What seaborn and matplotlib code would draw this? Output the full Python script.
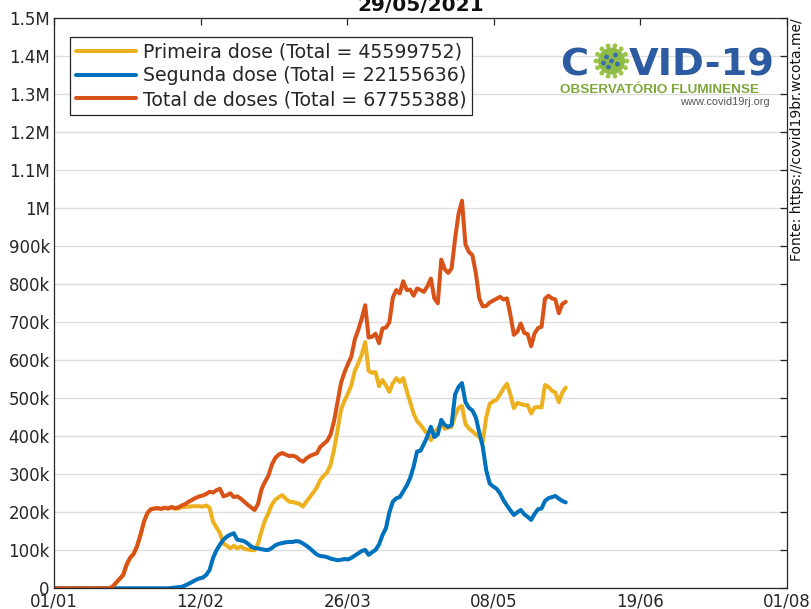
import numpy as np
import pandas as pd
import matplotlib
matplotlib.use("Agg")
import matplotlib.pyplot as plt
from matplotlib.lines import Line2D
from matplotlib.patches import Circle
from matplotlib.transforms import IdentityTransform
import seaborn as sns

# ---- data (daily doses, thousands; day 0 = 01/01/2021) ----
primeira_mil = [0] * 17 + [
    5, 15, 25, 35, 62, 80, 90, 110, 140, 175,
    198, 208, 210, 211, 209, 212, 210, 213, 209, 210,
    214, 214, 215, 216, 216, 216, 215, 218, 212, 175,
    160, 145, 118, 112, 105, 112, 105, 110, 104, 102,
    101, 100, 117, 150, 178, 198, 220, 233, 240, 245,
    236, 228, 227, 225, 222, 215, 228, 240, 252, 265,
    285, 296, 305, 325, 365, 415, 470, 493, 512, 535,
    572, 592, 615, 648, 572, 567, 569, 532, 548, 534,
    517, 540, 553, 543, 553, 520, 490, 460, 440, 430,
    418, 405, 390, 410, 420, 433, 420, 423, 425, 455,
    475, 480, 432, 421, 413, 405, 398, 385, 450, 485,
    492, 496, 510, 526, 538, 510, 474, 488, 485, 482,
    482, 460, 476, 477, 476, 535, 530, 520, 515, 490,
    515, 528]

segunda_mil = [0] * 34 + [
    1, 2, 3, 4, 8, 12, 17, 22, 26, 28,
    35, 48, 80, 100, 115, 128, 136, 141, 145, 128,
    126, 124, 118, 110, 106, 105, 103, 101, 101, 106,
    113, 117, 119, 121, 122, 122, 124, 123, 118, 112,
    105, 97, 89, 85, 84, 82, 78, 76, 74, 75,
    77, 76, 80, 86, 92, 98, 101, 88, 95, 101,
    115, 140, 158, 200, 228, 237, 240, 255, 270, 290,
    320, 360, 362, 380, 400, 425, 398, 405, 443, 430,
    425, 430, 510, 530, 540, 490, 475, 468, 450, 410,
    373, 311, 276, 268, 262, 250, 232, 218, 205, 193,
    200, 206, 195, 188, 180, 196, 208, 210, 230, 237,
    240, 243, 236, 230, 226]

total_mil = [0] * 17 + [
    5, 15, 25, 35, 62, 80, 90, 110, 140, 175,
    198, 208, 210, 211, 209, 212, 210, 214, 211, 213,
    218, 222, 228, 233, 238, 242, 244, 248, 254, 252,
    258, 262, 242, 245, 250, 240, 242, 236, 228, 220,
    213, 206, 222, 260, 280, 296, 325, 343, 352, 356,
    352, 348, 349, 346, 338, 333, 342, 348, 352, 355,
    372, 380, 388, 405, 440, 490, 540, 568, 590, 610,
    655, 680, 710, 745, 660, 662, 670, 645, 684, 686,
    700, 765, 785, 776, 808, 785, 786, 770, 789, 785,
    780, 795, 815, 763, 750, 865, 840, 830, 842, 920,
    985, 1020, 905, 885, 877, 830, 763, 742, 743, 752,
    757, 762, 767, 760, 763, 720, 667, 675, 697, 672,
    669, 637, 671, 685, 688, 762, 770, 763, 760, 724,
    748, 754]

series_names = ["Primeira dose (Total = 45599752)",
                "Segunda dose (Total = 22155636)",
                "Total de doses (Total = 67755388)"]
series_colors = ["#EDB120", "#0072BD", "#D95319"]
x_tick_labels = ["01/01", "12/02", "26/03", "08/05", "19/06", "01/08"]
y_tick_values = [0, 100, 200, 300, 400, 500, 600, 700, 800, 900,
                 1000, 1100, 1200, 1300, 1400, 1500]
y_tick_labels = ["0", "100k", "200k", "300k", "400k", "500k", "600k", "700k",
                 "800k", "900k", "1M", "1.1M", "1.2M", "1.3M", "1.4M", "1.5M"]
title_text = "29/05/2021"
source_text = "Fonte: https://covid19br.wcota.me/"

# ---- build frame ----
n = len(total_mil)
df = pd.DataFrame({
    "dia": np.tile(np.arange(n), 3),
    "doses": primeira_mil + segunda_mil + total_mil,
    "serie": np.repeat(series_names, n),
})

sns.set_theme(style="white")
plt.rcParams["font.family"] = ["DejaVu Sans"]

W, H = 811, 609
fig = plt.figure(figsize=(W / 100, H / 100), dpi=100)
ax = fig.add_axes([54 / W, (H - 588.3) / H, (787 - 54) / W, (588.3 - 18.3) / H])

sns.lineplot(data=df, x="dia", y="doses", hue="serie", hue_order=series_names,
             palette=dict(zip(series_names, series_colors)), linewidth=2.9,
             ax=ax, legend=False)

ax.set_xlim(0, 212)
ax.set_ylim(0, 1500)
ax.set_xticks(np.linspace(0, 212, 6))
ax.set_xticklabels(x_tick_labels)
ax.set_yticks(y_tick_values)
ax.set_yticklabels(y_tick_labels)
ax.set_xlabel("")
ax.set_ylabel("")
ax.yaxis.grid(True, color="#DEDEDE", linewidth=1)
ax.xaxis.grid(False)
ax.set_axisbelow(True)
for s in ax.spines.values():
    s.set_color("#262626")
    s.set_linewidth(0.9)
ax.tick_params(direction="in", length=5, width=0.9, top=True, right=True,
               colors="#262626", labelsize=12, pad=3)

ax.set_title(title_text, fontsize=14.5, fontweight="bold", pad=5.2, color="#111111")

handles = [Line2D([0], [0], color=c, lw=2.9) for c in series_colors]
leg = ax.legend(handles, series_names, loc="upper left",
                bbox_to_anchor=(16 / 733, (588.3 - 37) / 570), borderaxespad=0,
                fontsize=13.6, frameon=True, fancybox=False, framealpha=1,
                edgecolor="#262626", handlelength=3.2, handletextpad=0.35,
                labelspacing=0.25, borderpad=0.3)
leg.get_frame().set_linewidth(0.9)

# source text (rotated, right side)
fig.text(797 / W, 1 - 140 / H, source_text, rotation=90, ha="center",
         va="center", fontsize=10, color="#111111")

# ---- logo ----
def fx(px):
    return px / W

def fy(py):
    return 1 - py / H

blue = "#2C5BA2"
green = "#7EA73A"
fig.text(fx(560), fy(75), "C", fontsize=27.6, fontweight="bold", color=blue,
         ha="left", va="baseline", family="DejaVu Sans")
fig.text(fx(629), fy(75), "VID-19", fontsize=27.6, fontweight="bold", color=blue,
         ha="left", va="baseline", family="DejaVu Sans")
cx, cy = 611.5, H - 61
for k in range(14):
    a = 2 * np.pi * k / 14
    fig.add_artist(Circle((cx + 15.5 * np.cos(a), cy + 15.5 * np.sin(a)), 2.4,
                          transform=IdentityTransform(), color="#9CC44A", lw=0))
fig.add_artist(Circle((cx, cy), 13.5, transform=IdentityTransform(),
                      color="#8DBB46", lw=0))
for (dx, dy) in [(-5, 4), (4, 6), (6, -3), (-3, -6), (0, 0), (-8, -2)]:
    fig.add_artist(Circle((cx + dx, cy + dy), 2.4, transform=IdentityTransform(),
                          color="#3A6DB5", lw=0))
fig.text(fx(560), fy(93), "OBSERVATÓRIO FLUMINENSE", fontsize=9.7,
         fontweight="bold", color=green, ha="left", va="baseline",
         family="Liberation Sans")
fig.text(fx(770), fy(105), "www.covid19rj.org", fontsize=7.9, color="#555555",
         ha="right", va="baseline", family="Liberation Sans")

fig.savefig("out.png", dpi=100)
